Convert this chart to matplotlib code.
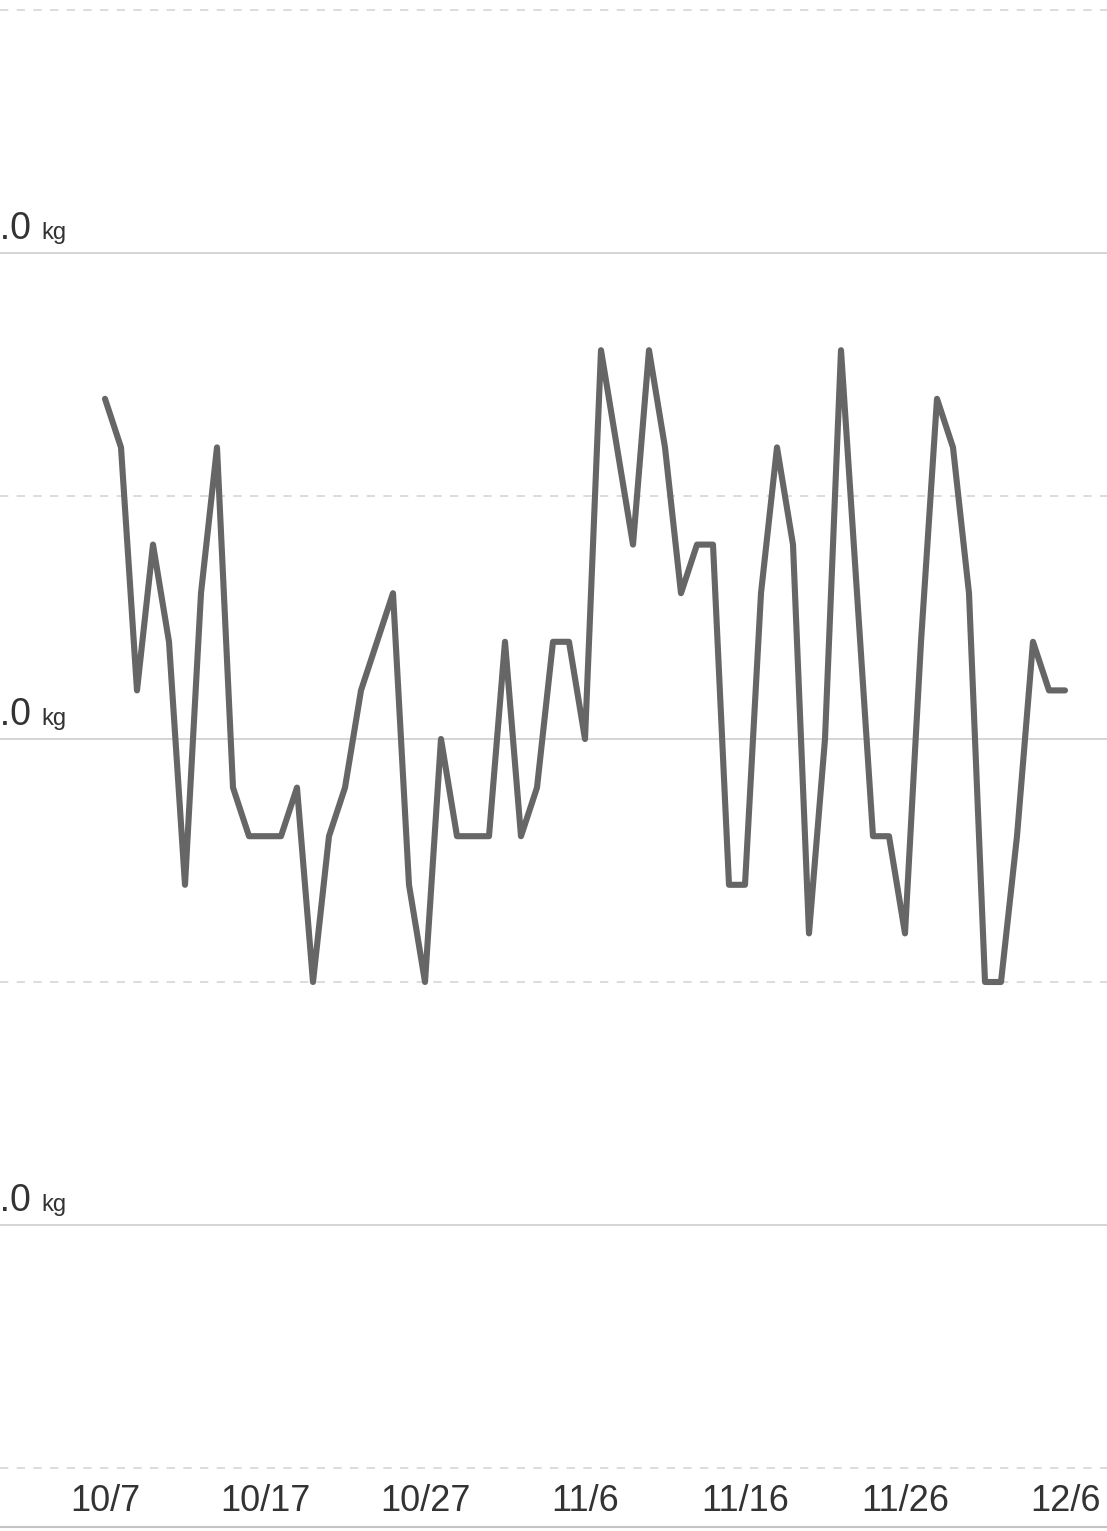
import numpy as np
import pandas as pd
import matplotlib
matplotlib.use("Agg")
import matplotlib.pyplot as plt
import matplotlib.dates as mdates

plt.rcParams['font.family'] = ['Liberation Sans', 'DejaVu Sans']

# ---- data ----
start_date = "2023-10-07"
weights = [60.7, 60.6, 60.1, 60.4, 60.2, 59.7, 60.3, 60.6, 59.9, 59.8,
           59.8, 59.8, 59.9, 59.5, 59.8, 59.9, 60.1, 60.2, 60.3, 59.7,
           59.5, 60.0, 59.8, 59.8, 59.8, 60.2, 59.8, 59.9, 60.2, 60.2,
           60.0, 60.8, 60.6, 60.4, 60.8, 60.6, 60.3, 60.4, 60.4, 59.7,
           59.7, 60.3, 60.6, 60.4, 59.6, 60.0, 60.8, 60.3, 59.8, 59.8,
           59.6, 60.2, 60.7, 60.6, 60.3, 59.5, 59.5, 59.8, 60.2, 60.1,
           60.1]
dates = pd.date_range(start_date, periods=len(weights), freq="D")

tick_dates = ["2023-10-07", "2023-10-17", "2023-10-27", "2023-11-06",
              "2023-11-16", "2023-11-26", "2023-12-06"]
tick_labels = ["10/7", "10/17", "10/27", "11/6", "11/16", "11/26", "12/6"]

solid_levels = [61.0, 60.0, 59.0]
dashed_levels = [61.5, 60.5, 59.5, 58.5]
level_labels = ["61.0", "60.0", "59.0"]
unit = "kg"

# ---- figure ----
W, H, DPI = 1107, 1531, 100
fig = plt.figure(figsize=(W / DPI, H / DPI), dpi=DPI)
ax = fig.add_axes([0, (H - 1527) / H, 1, 1527 / H])

ax.plot(dates, weights, color="#666666", lw=4.4, solid_joinstyle="round",
        solid_capstyle="round", zorder=3)

d0 = pd.Timestamp(start_date)
ax.set_xlim(d0 - pd.Timedelta(days=105 / 16), d0 + pd.Timedelta(days=(W - 105) / 16))
ax.set_ylim(60 - (1527 - 739) / 486, 60 + 739 / 486)

for lv in solid_levels:
    ax.axhline(lv, color="#d2d2d2", lw=1.3, zorder=1)
for lv in dashed_levels:
    ax.axhline(lv, color="#d6d6d6", lw=1.2, ls=(0, (5, 5)), zorder=1)

for lv, lab in zip(solid_levels, level_labels):
    ax.annotate(lab, xy=(0, lv), xycoords=ax.get_yaxis_transform(),
                xytext=(31 * 0.72, 14 * 0.72), textcoords="offset points",
                ha="right", va="baseline", fontsize=27, color="#333333")
    ax.annotate(unit, xy=(0, lv), xycoords=ax.get_yaxis_transform(),
                xytext=(41 * 0.72, 14 * 0.72), textcoords="offset points",
                ha="left", va="baseline", fontsize=17, color="#333333")

ax.set_xticks(pd.to_datetime(tick_dates))
ax.set_xticklabels(tick_labels)
ax.tick_params(axis="x", length=0, pad=-31, labelsize=26, labelcolor="#333333")
ax.set_yticks([])

for s in ["top", "left", "right"]:
    ax.spines[s].set_visible(False)
ax.spines["bottom"].set_color("#c4c4c4")
ax.spines["bottom"].set_linewidth(1.5)

fig.savefig("out.png", dpi=DPI)
